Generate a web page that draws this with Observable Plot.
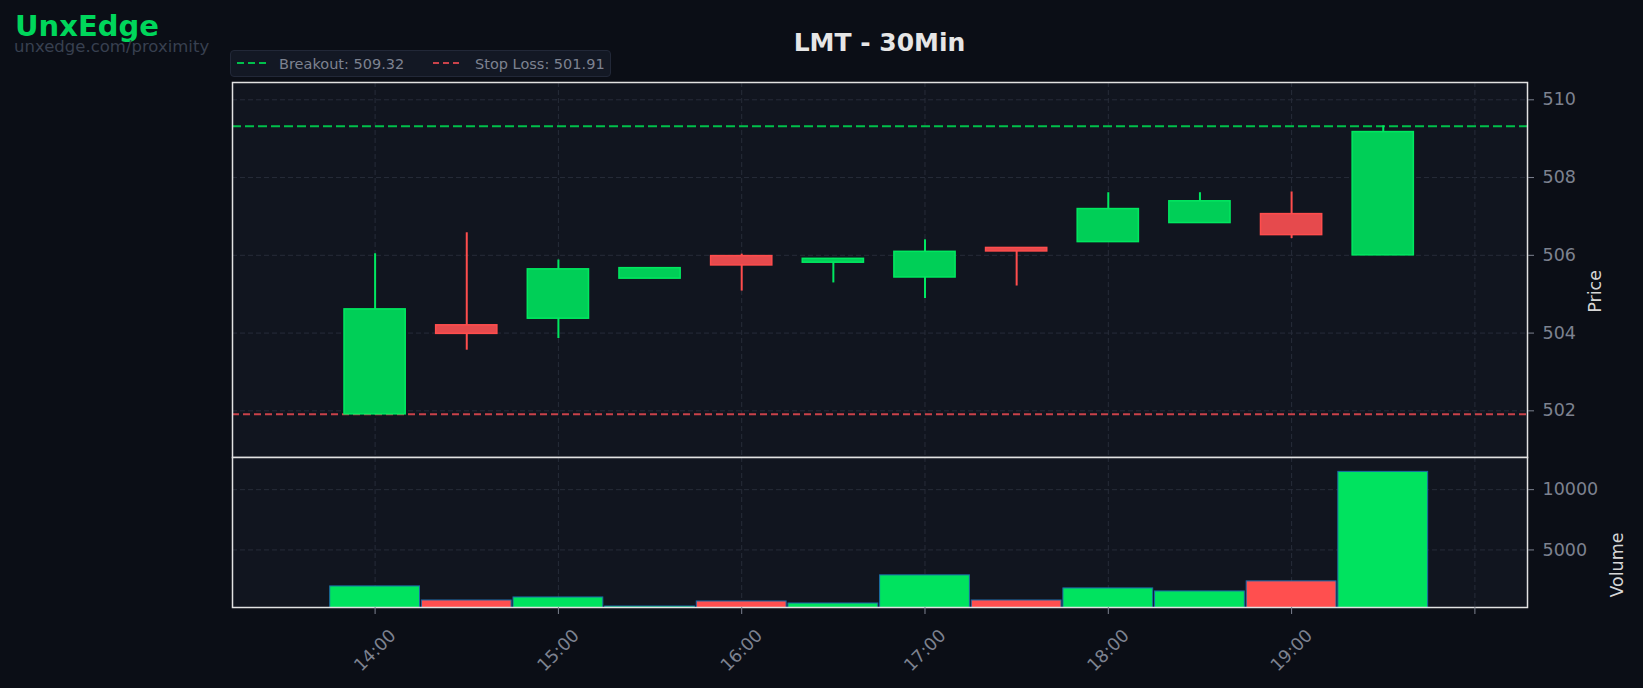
<!DOCTYPE html>
<html><head><meta charset="utf-8">
<script src="https://cdn.jsdelivr.net/npm/d3@7"></script>
<script src="https://cdn.jsdelivr.net/npm/@observablehq/plot@0.6"></script>
<style>
html,body{margin:0;padding:0;background:#0b0e16;}
#wrap{position:relative;width:1643px;height:688px;background:#0b0e16;font-family:"DejaVu Sans",sans-serif;overflow:hidden;}
.abs{position:absolute;white-space:nowrap;line-height:1;}
#wrap svg{overflow:visible;}
</style></head><body>
<div id="wrap">
  <div class="abs" id="brand" style="left:15px;top:12px;font-size:29px;font-weight:bold;color:#00d65b;">UnxEdge</div>
  <div class="abs" id="sub" style="left:14px;top:39px;font-size:16.5px;color:#384050;">unxedge.com/proximity</div>
  <div class="abs" id="title" style="left:232px;width:1295px;text-align:center;top:30px;font-size:25px;font-weight:bold;color:#e6e6e6;"></div>
  <div class="abs" style="left:230px;top:50px;width:381px;height:27px;background:#131824;border:1px solid #222838;border-radius:4px;box-sizing:border-box;"></div>
  <svg class="abs" style="left:237px;top:59px;" width="30" height="8"><line x1="0" x2="30" y1="4" y2="4" stroke="#00c04b" stroke-width="2" stroke-dasharray="7,4"/></svg>
  <div class="abs" id="lg1" style="left:279px;top:57px;font-size:14.5px;color:#7d8290;"></div>
  <svg class="abs" style="left:433px;top:59px;" width="30" height="8"><line x1="0" x2="30" y1="4" y2="4" stroke="#c9424a" stroke-width="2" stroke-dasharray="6,4"/></svg>
  <div class="abs" id="lg2" style="left:475px;top:57px;font-size:14.5px;color:#7d8290;"></div>
  <div class="abs" id="price" style="left:0;top:0;"></div>
  <div class="abs" id="vol" style="left:0;top:440px;"></div>
</div>
<script>
// ---- data ----
const symbol = "LMT";
const timeframe = "30Min";
const times  = ["14:00","14:30","15:00","15:30","16:00","16:30","17:00","17:30","18:00","18:30","19:00","19:30"];
const opens  = [501.91, 504.20, 504.37, 505.40, 505.98, 505.81, 505.43, 506.19, 506.34, 506.83, 507.06, 506.00];
const highs  = [506.04, 506.58, 505.88, 505.68, 506.03, 505.92, 506.40, 506.20, 507.61, 507.61, 507.63, 509.33];
const lows   = [501.90, 503.56, 503.86, 505.40, 505.08, 505.29, 504.89, 505.21, 506.33, 506.82, 506.43, 506.00];
const closes = [504.61, 503.98, 505.64, 505.67, 505.74, 505.91, 506.09, 506.10, 507.19, 507.39, 506.52, 509.17];
const volumes= [1975, 808, 1058, 308, 725, 558, 2892, 808, 1808, 1558, 2392, 11475];
const breakout = 509.32;
const stopLoss = 501.91;
const xTickHours = [14, 15, 16, 17, 18, 19, 20];
const xTickLabels = ["14:00","15:00","16:00","17:00","18:00","19:00"];
const priceTicks = [502, 504, 506, 508, 510];
const volumeTicks = [5000, 10000];

// ---- build table ----
const toH = s => +s.slice(0,2) + (+s.slice(3))/60;
const rows = times.map((t,i) => ({h: toH(t), open: opens[i], high: highs[i], low: lows[i], close: closes[i], vol: volumes[i], up: closes[i] >= opens[i]}));
const labelRows = xTickLabels.map(l => ({h: toH(l), label: l}));

document.getElementById("title").textContent = `${symbol} - ${timeframe}`;
document.getElementById("lg1").textContent = `Breakout: ${breakout.toFixed(2)}`;
document.getElementById("lg2").textContent = `Stop Loss: ${stopLoss.toFixed(2)}`;

const GREEN_FILL = "#00cf57", GREEN_EDGE = "#00e860", RED_FILL = "#e64a4d", RED_EDGE = "#ff4d4d";
const VOL_GREEN = "#00e35f", VOL_RED = "#ff4f4f";
const PANEL = "#11151f", GRID = "#272c39", FRAME = "#e2e2e2", TICK = "#7d8290", LABEL = "#d6d6d6";
const xDomain = [13.222, 20.287];
const common = {width: 1643, marginLeft: 232, marginRight: 116,
  style: {background: "transparent", fontFamily: "DejaVu Sans", fontSize: "17.5px", color: TICK}};
const halfBody = 0.167, halfBar = 0.245;

const price = Plot.plot({
  ...common, height: 457, marginTop: 82, marginBottom: 0,
  x: {domain: xDomain, axis: null},
  y: {domain: [500.80, 510.445], axis: null},
  marks: [
    Plot.frame({fill: PANEL, stroke: null}),
    Plot.gridY(priceTicks, {stroke: GRID, strokeOpacity: 1, strokeDasharray: "5,3"}),
    Plot.gridX(xTickHours, {stroke: GRID, strokeOpacity: 1, strokeDasharray: "5,3"}),
    Plot.ruleY([breakout], {stroke: "#00c04b", strokeWidth: 2, strokeDasharray: "9,4"}),
    Plot.ruleY([stopLoss], {stroke: "#c9424a", strokeWidth: 2, strokeDasharray: "7,4"}),
    Plot.ruleX(rows, {x: "h", y1: "low", y2: "high", stroke: d => d.up ? GREEN_EDGE : RED_EDGE, strokeWidth: 2}),
    Plot.rect(rows, {x1: d => d.h - halfBody, x2: d => d.h + halfBody, y1: "open", y2: "close",
      fill: d => d.up ? GREEN_FILL : RED_FILL, stroke: d => d.up ? GREEN_EDGE : RED_EDGE, strokeWidth: 1.5}),
    Plot.frame({stroke: FRAME, strokeWidth: 1.5}),
    Plot.axisY(priceTicks, {anchor: "right", tickSize: 6, tickPadding: 9, fontSize: 17.5, color: TICK, label: null, tickFormat: d => String(d)}),
    Plot.text(["Price"], {frameAnchor: "right", rotate: -90, dx: 68, fontSize: 17.5, fill: LABEL, text: d => d})
  ]
});
document.getElementById("price").appendChild(price);

const vol = Plot.plot({
  ...common, height: 248, marginTop: 17, marginBottom: 81,
  x: {domain: xDomain, axis: null},
  y: {domain: [225, 12667], axis: null},
  marks: [
    Plot.frame({fill: PANEL, stroke: null}),
    Plot.gridY(volumeTicks, {stroke: GRID, strokeOpacity: 1, strokeDasharray: "5,3"}),
    Plot.gridX(xTickHours, {stroke: GRID, strokeOpacity: 1, strokeDasharray: "5,3"}),
    Plot.rectY(rows, {x1: d => d.h - halfBar, x2: d => d.h + halfBar, y: "vol",
      fill: d => d.up ? VOL_GREEN : VOL_RED, stroke: "#1b6aa8", strokeWidth: 1, clip: true}),
    Plot.frame({stroke: FRAME, strokeWidth: 1.5}),
    Plot.axisY(volumeTicks, {anchor: "right", tickSize: 6, tickPadding: 9, fontSize: 17.5, color: TICK, label: null, tickFormat: d => String(d)}),
    Plot.axisX(xTickHours, {anchor: "bottom", tickSize: 7, tickFormat: () => "", color: TICK, label: null}),
    Plot.text(labelRows, {x: "h", text: "label", frameAnchor: "bottom", dy: 43, rotate: -45,
      textAnchor: "middle", lineAnchor: "middle", fontSize: 17.5, fill: TICK}),
    Plot.text(["Volume"], {frameAnchor: "right", rotate: -90, dx: 90, fontSize: 17.5, fill: LABEL, text: d => d})
  ]
});
document.getElementById("vol").appendChild(vol);
</script>
</body></html>
